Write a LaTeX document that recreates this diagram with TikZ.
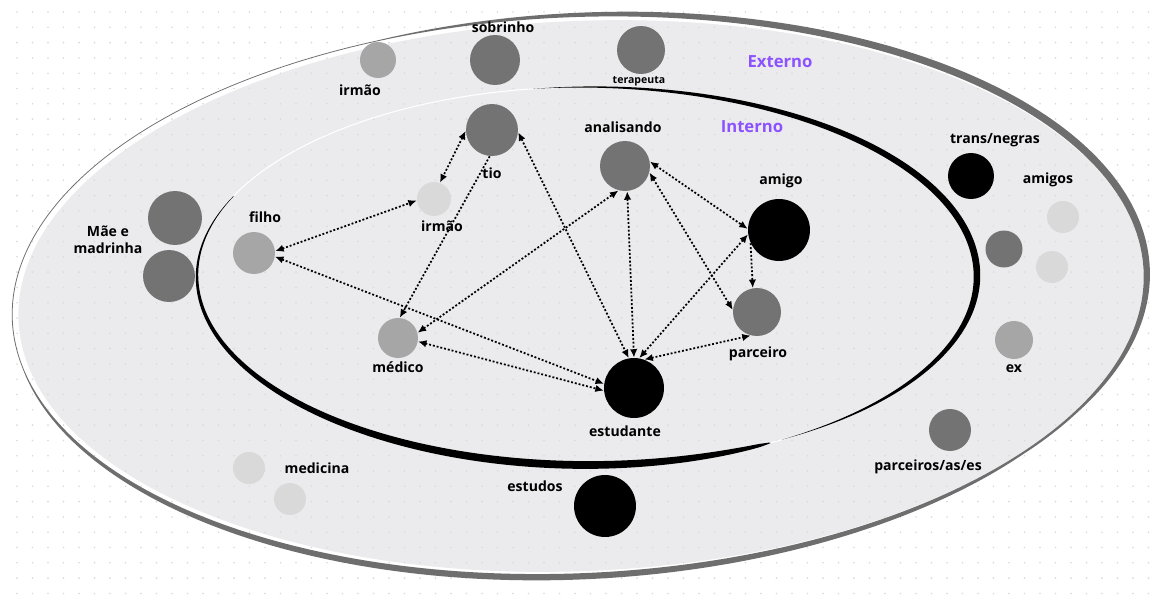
\documentclass[tikz,border=0pt]{standalone}
\usepackage{fontspec}
\setmainfont{Open Sans}
\usetikzlibrary{arrows.meta}
\definecolor{cdark}{HTML}{737373}
\definecolor{cmid}{HTML}{A6A6A6}
\definecolor{clight}{HTML}{D9D9D9}
\definecolor{cfill}{HTML}{EBEBED}
\definecolor{cband}{HTML}{6E6E6E}
\definecolor{cpurple}{HTML}{8C52FF}
\definecolor{dotc}{HTML}{DADADA}
\begin{document}
\begin{tikzpicture}[x=0.02cm,y=-0.02cm,
  person/.style={circle,inner sep=0pt,minimum size=#1*0.04cm},
  lbl/.style={font=\bfseries\fontsize{8}{9.5}\selectfont,inner sep=0pt,text=black,align=center},
  small/.style={font=\bfseries\fontsize{6}{7}\selectfont,inner sep=0pt,text=black},
  zone/.style={font=\bfseries\fontsize{9.5}{11}\selectfont,inner sep=0pt,text=cpurple},
  >={Latex[length=4.8pt,width=4.2pt]},
  link/.style={line width=1pt,dash pattern=on 1.1pt off 1.1pt,black},
  declare function={
    wo(\x)=0.8+7*max(0,1-((\x+35)/75)^2)+5.5*max(0,1-((\x-100)/70)^2);
    go(\x)=3-3*cos(\x-20);
    wa(\x)=7*sin((\x-262)*1.13924); wb(\x)=7*sin(180*sqrt(max(\x-62,0)/138));}]
\useasboundingbox (0,0) rectangle (1157,596);
\fill[white] (0,0) rectangle (1157,596);
% outer zone
\begin{scope}[rotate around={2.5:(581,296)}]
\fill[cfill] (581,296) ellipse [x radius=563, y radius=275];
\end{scope}
\foreach \i in {0,...,74}{\foreach \j in {0,...,38}{
  \fill[dotc] ({17+15.5*\i},{12+15.3*\j}) circle [radius=0.9];}}
\begin{scope}[rotate around={2.5:(581,296)}]
\fill[cband] plot[domain=-110:250,samples=181,smooth] ({581+(563+go(\x)+wo(\x))*cos(\x)},{296+(275+go(\x)+wo(\x))*sin(\x)})
  -- plot[domain=250:-110,samples=181,smooth] ({581+(563+go(\x))*cos(\x)},{296+(275+go(\x))*sin(\x)}) -- cycle;
\end{scope}
% inner zone
\draw[white,line width=0.6pt] (587,276) ellipse [x radius=390, y radius=189];
\fill[black] plot[domain=262:420,samples=90,smooth] ({587+(390+wa(\x)/2)*cos(\x)},{276+(189+wa(\x)/2)*sin(\x)})
  -- plot[domain=420:262,samples=90,smooth] ({587+(390-wa(\x)/2)*cos(\x)},{276+(189-wa(\x)/2)*sin(\x)}) -- cycle;
\fill[black] plot[domain=62:205,samples=90,smooth] ({587+(390+wb(\x)/2+0.4)*cos(\x)},{276+(189+wb(\x)/2+0.4)*sin(\x)})
  -- plot[domain=205:62,samples=90,smooth] ({587+(390-wb(\x)/2-0.4)*cos(\x)},{276+(189-wb(\x)/2-0.4)*sin(\x)}) -- cycle;
% zone titles
\node[zone] (externo) at (780,62) {Externo};
\node[zone] (interno) at (752,127) {Interno};
% people
\node[person=18,fill=cmid] (irmaoA) at (378,60) {};
\node[person=25,fill=cdark] (sobrinho) at (495,60) {};
\node[person=24,fill=cdark] (terapeuta) at (641,50) {};
\node[person=26,fill=cdark] (tio) at (492,130) {};
\node[person=17,fill=clight] (irmaoB) at (434,199) {};
\node[person=21,fill=cmid] (filho) at (254,253) {};
\node[person=27,fill=cdark] (mae) at (175,218) {};
\node[person=26,fill=cdark] (madrinha) at (169,276) {};
\node[person=20,fill=cmid] (medico) at (398,338) {};
\node[person=25,fill=cdark] (analisando) at (625,166) {};
\node[person=31,fill=black] (amigo) at (779,230) {};
\node[person=24,fill=cdark] (parceiro) at (757,312) {};
\node[person=30,fill=black] (estudante) at (634,388) {};
\node[person=31,fill=black] (estudos) at (605,506) {};
\node[person=16,fill=clight] (medicinaA) at (249,468) {};
\node[person=16,fill=clight] (medicinaB) at (290,499) {};
\node[person=23,fill=black] (trans) at (971,176) {};
\node[person=16,fill=clight] (amigosA) at (1063,217) {};
\node[person=18.5,fill=cdark] (amigosB) at (1004,249) {};
\node[person=16,fill=clight] (amigosC) at (1052,267) {};
\node[person=19,fill=cmid] (ex) at (1014,340) {};
\node[person=21,fill=cdark] (parceiros) at (950,430) {};
% labels
\node[lbl] (l-sobrinho) at (503,27) {sobrinho};
\node[lbl] (l-irmaoA) at (360,90) {irmão};
\node[small] (l-terapeuta) at (639,81) {terapeuta};
\node[lbl] (l-analisando) at (623,127) {analisando};
\node[lbl] (l-tio) at (492,173) {tio};
\node[lbl] (l-irmaoB) at (442,226) {irmão};
\node[lbl] (l-filho) at (265,217) {filho};
\node[lbl] (l-mae) at (108,240) {Mãe e\\madrinha};
\node[lbl] (l-medico) at (398,367) {médico};
\node[lbl] (l-amigo) at (781,181) {amigo};
\node[lbl] (l-parceiro) at (758,354) {parceiro};
\node[lbl] (l-estudante) at (625,431) {estudante};
\node[lbl] (l-estudos) at (535,486) {estudos};
\node[lbl] (l-medicina) at (317,468) {medicina};
\node[lbl] (l-trans) at (995,140) {trans/negras};
\node[lbl] (l-amigos) at (1048,180) {amigos};
\node[lbl] (l-ex) at (1014,369) {ex};
\node[lbl] (l-parceiros) at (928,467) {parceiros/as/es};
% connectors
\draw[link,<->] (tio.182) -- (irmaoB.70);
\draw[link,->] (tio.265) -- (medico.85);
\draw[link,<->] (tio.355) -- (estudante.100);
\draw[link,<->] (filho.5) -- (irmaoB.185);
\draw[link,<->] (filho.350) -- (estudante.172);
\draw[link,<->] (medico.350) -- (estudante.185);
\draw[link,<->] (medico.15) -- (analisando.255);
\draw[link,<->] (analisando.275) -- (estudante.90);
\draw[link,<->] (analisando.10) -- (amigo.178);
\draw[link,<->] (analisando.345) -- (parceiro.175);
\draw[link,<->] (amigo.188) -- (estudante.80);
\draw[link,->] (amigo.205) -- (parceiro.100);
\draw[link,<->] (estudante.70) -- (parceiro.255);
\end{tikzpicture}
\end{document}
